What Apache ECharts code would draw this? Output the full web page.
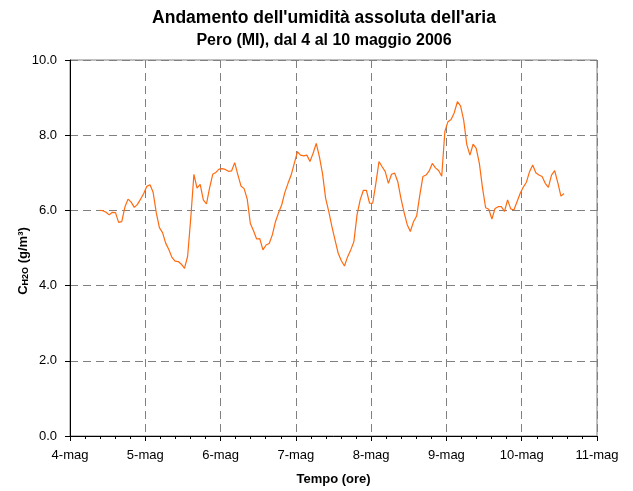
<!DOCTYPE html>
<html>
<head>
<meta charset="utf-8">
<script src="https://cdn.jsdelivr.net/npm/echarts@6/dist/echarts.min.js"></script>
<style>
  html, body { margin: 0; padding: 0; background: #fff; }
  #chart { width: 633px; height: 491px; }
</style>
</head>
<body>
<div id="chart"></div>
<script>
// ore dall'inizio del 4 maggio (primo dato) e passo orario
const startHour = 9.5
const dayLabels = ['4-mag', '5-mag', '6-mag', '7-mag', '8-mag', '9-mag', '10-mag', '11-mag']
const yTicks = [0, 2, 4, 6, 8, 10]
// umidita' assoluta C_H2O (g/m3), un valore per ora
const humidity = [
  6.00, 5.99, 5.95, 5.88, 5.95, 5.94, 5.68, 5.70, 6.09, 6.30,
  6.22, 6.08, 6.16, 6.30, 6.45, 6.64, 6.68, 6.48, 5.94, 5.54,
  5.41, 5.13, 4.96, 4.75, 4.65, 4.64, 4.57, 4.46, 4.78, 5.80,
  6.96, 6.59, 6.69, 6.28, 6.17, 6.60, 6.96, 7.01, 7.10, 7.11,
  7.09, 7.04, 7.05, 7.27, 6.95, 6.65, 6.58, 6.30, 5.65, 5.46,
  5.24, 5.25, 4.95, 5.08, 5.12, 5.35, 5.70, 5.94, 6.15, 6.48,
  6.72, 6.94, 7.25, 7.56, 7.47, 7.45, 7.47, 7.30, 7.52, 7.78,
  7.43, 6.98, 6.32, 5.97, 5.57, 5.21, 4.86, 4.66, 4.52, 4.77,
  4.95, 5.17, 5.88, 6.28, 6.53, 6.53, 6.19, 6.19, 6.72, 7.30,
  7.16, 7.03, 6.72, 6.96, 6.99, 6.76, 6.32, 5.95, 5.62, 5.44,
  5.70, 5.85, 6.40, 6.90, 6.94, 7.05, 7.25, 7.13, 7.06, 6.91,
  8.10, 8.36, 8.42, 8.60, 8.89, 8.78, 8.40, 7.75, 7.47, 7.76,
  7.65, 7.25, 6.60, 6.07, 6.03, 5.77, 6.05, 6.10, 6.10, 5.97,
  6.28, 6.04, 6.01, 6.23, 6.45, 6.62, 6.75, 7.03, 7.21, 7.00,
  6.94, 6.90, 6.72, 6.61, 6.94, 7.06, 6.74, 6.38, 6.45
]

const font = 'Arial, "Liberation Sans", sans-serif'
const chart = echarts.init(document.getElementById('chart'))

const seriesData = humidity.map((v, i) => [startHour + i, v])

const option = {
  animation: false,
  backgroundColor: '#fff',
  title: {
    text: "{a|Andamento dell'umidità assoluta dell'aria}\n{b|Pero (MI), dal 4 al 10 maggio 2006}",
    left: 319,
    top: 1,
    textAlign: 'center',
    textStyle: {
      rich: {
        a: { fontFamily: font, fontSize: 17.5, fontWeight: 'bold', color: '#000', lineHeight: 24 },
        b: { fontFamily: font, fontSize: 16, fontWeight: 'bold', color: '#000', lineHeight: 22 }
      }
    }
  },
  grid: {
    left: 70,
    right: 36,
    top: 60,
    bottom: 55,
    show: true,
    borderColor: '#808080',
    borderWidth: 1
  },
  xAxis: {
    type: 'value',
    min: 0,
    max: 168,
    interval: 24,
    name: 'Tempo (ore)',
    nameLocation: 'middle',
    nameGap: 37,
    nameTextStyle: { fontFamily: font, fontSize: 13, fontWeight: 'bold', color: '#000' },
    axisLine: { lineStyle: { color: '#000', width: 1 } },
    axisTick: { show: true, inside: false, length: 5, lineStyle: { color: '#000' } },
    minorTick: { show: true, splitNumber: 5, length: 3, lineStyle: { color: '#000' } },
    axisLabel: {
      fontFamily: font,
      fontSize: 13,
      color: '#000',
      margin: 13,
      formatter: v => dayLabels[Math.round(v / 24)]
    },
    splitLine: { show: true, lineStyle: { color: '#808080', type: [8, 5], width: 1 } }
  },
  yAxis: {
    type: 'value',
    min: 0,
    max: 10,
    interval: 2,
    name: '{c|C}{s|H2O}{c| (g/m³)}',
    nameLocation: 'middle',
    nameGap: 40,
    nameRotate: 90,
    nameMoveOverlap: false,
    nameTextStyle: {
      padding: [0, 26, 0, 0],
      rich: {
        c: { fontFamily: font, fontSize: 13, fontWeight: 'bold', color: '#000', verticalAlign: 'bottom', lineHeight: 16 },
        s: { fontFamily: font, fontSize: 9, fontWeight: 'bold', color: '#000', verticalAlign: 'bottom', lineHeight: 12 }
      }
    },
    axisLine: { show: true, lineStyle: { color: '#000', width: 1 } },
    axisTick: { show: true, inside: false, length: 5, lineStyle: { color: '#000' } },
    axisLabel: {
      fontFamily: font,
      fontSize: 13,
      color: '#000',
      margin: 13,
      formatter: v => (yTicks.indexOf(v) >= 0 ? v.toFixed(1) : '')
    },
    splitLine: { show: true, lineStyle: { color: '#808080', type: [8, 5], width: 1 } }
  },
  series: [
    {
      type: 'line',
      data: seriesData,
      showSymbol: false,
      symbol: 'none',
      lineStyle: { color: '#ff6a10', width: 1.2 },
      z: 5
    }
  ]
}

chart.setOption(option)
</script>
</body>
</html>
